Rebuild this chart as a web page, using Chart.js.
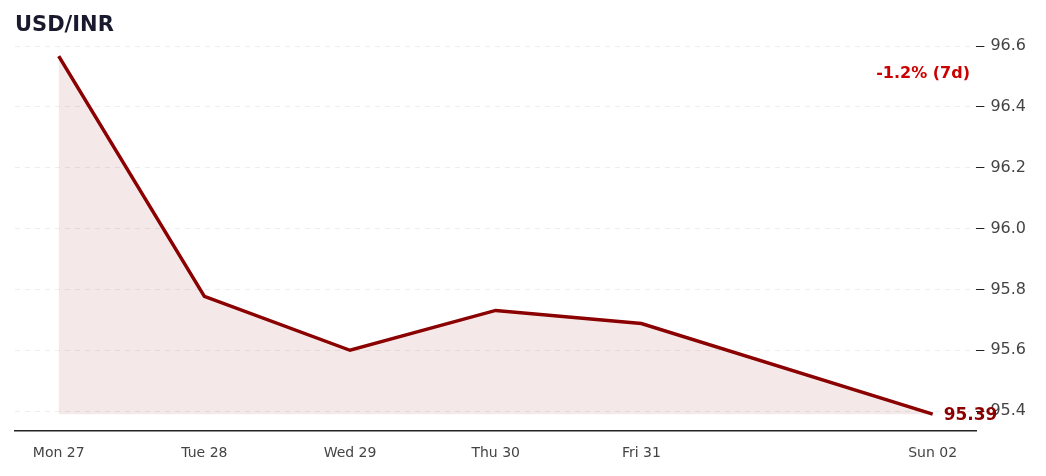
<!DOCTYPE html>
<html>
<head>
<meta charset="utf-8">
<script src="https://cdn.jsdelivr.net/npm/chart.js@4/dist/chart.umd.min.js"></script>
<style>
  body { margin: 0; background: #fff; }
  #wrap { position: relative; width: 1046px; height: 476px; }
</style>
</head>
<body>
<div id="wrap"><canvas id="chart" width="1046" height="476"></canvas></div>
<script>
// day index (0 = Mon 27); Sat 01 has no quote
const dayIndex = [0, 1, 2, 3, 4, 6];
const dayLabels = ["Mon 27", "Tue 28", "Wed 29", "Thu 30", "Fri 31", "Sat 01", "Sun 02"];
const rates = [96.567, 95.777, 95.600, 95.731, 95.688, 95.39];
const yTicks = [95.4, 95.6, 95.8, 96.0, 96.2, 96.4, 96.6];
const changeText = "-1.2% (7d)";
const lastText = "95.39";

const lineColor = "#8b0000";

const labelsPlugin = {
  id: "labels",
  afterDraw(chart) {
    const ctx = chart.ctx;
    const x = chart.scales.x, y = chart.scales.y;
    ctx.save();
    ctx.font = "bold 21px 'DejaVu Sans'";
    ctx.fillStyle = "#1a1a2e";
    ctx.textBaseline = "middle";
    ctx.textAlign = "left";
    ctx.fillText("USD/INR", 15, 26);

    ctx.font = "bold 16px 'DejaVu Sans'";
    ctx.fillStyle = "#cc0000";
    ctx.textAlign = "right";
    ctx.fillText(changeText, 970, 74);

    const last = rates.length - 1;
    ctx.font = "bold 17px 'DejaVu Sans'";
    ctx.fillStyle = lineColor;
    ctx.textAlign = "left";
    ctx.fillText(lastText, x.getPixelForValue(dayIndex[last]) + 11, y.getPixelForValue(rates[last]) + 1);
    ctx.restore();
  }
};

new Chart(document.getElementById("chart"), {
  type: "line",
  data: {
    datasets: [{
      data: dayIndex.map((d, i) => ({ x: d, y: rates[i] })),
      borderColor: lineColor,
      borderWidth: 3.5,
      pointRadius: 0,
      tension: 0,
      fill: { value: 95.39 },
      backgroundColor: "rgba(139,0,0,0.09)"
    }]
  },
  options: {
    responsive: false,
    animation: false,
    layout: { padding: { top: 40, left: 15, right: 14, bottom: 8 } },
    plugins: { legend: { display: false }, tooltip: { enabled: false } },
    scales: {
      x: {
        type: "linear",
        min: -0.3,
        max: 6.3,
        afterBuildTicks: axis => { axis.ticks = dayIndex.map(v => ({ value: v })); },
        ticks: {
          callback: v => dayLabels[v],
          color: "#444",
          font: { family: "DejaVu Sans", size: 14 },
          padding: 6
        },
        grid: { display: false, drawTicks: true, tickLength: 8, tickColor: "#222" },
        border: { color: "#222", width: 1.5 }
      },
      y: {
        position: "right",
        min: 95.334,
        max: 96.62,
        afterBuildTicks: axis => { axis.ticks = yTicks.map(v => ({ value: v })); },
        ticks: {
          callback: v => v.toFixed(1),
          color: "#444",
          font: { family: "DejaVu Sans", size: 16 },
          padding: 6
        },
        grid: { color: "#eeeeee", tickLength: 8, tickColor: "#222" },
        border: { display: false, dash: [5, 5] }
      }
    }
  },
  plugins: [labelsPlugin]
});
</script>
</body>
</html>
